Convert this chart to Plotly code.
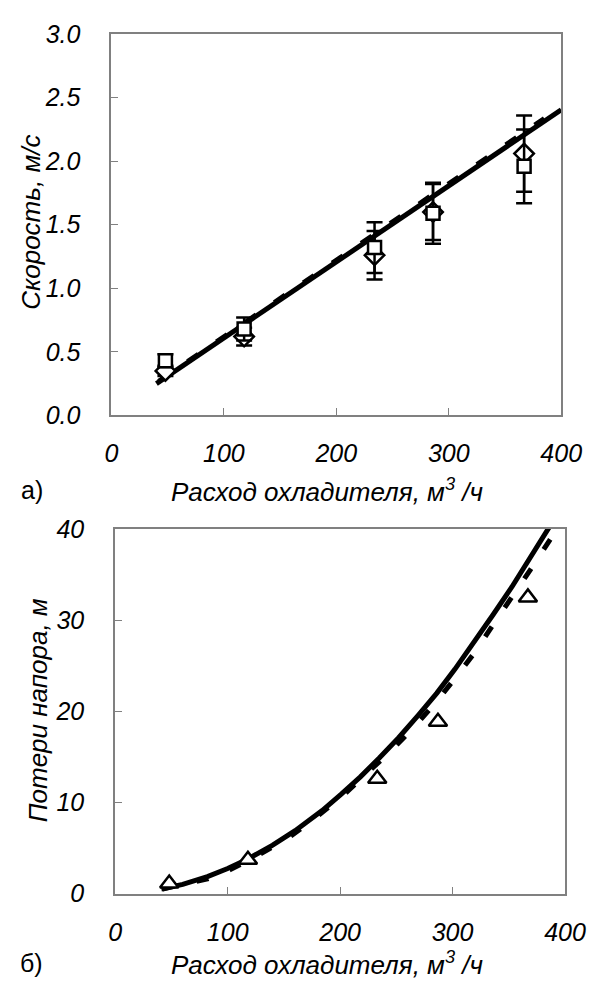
import plotly.graph_objects as go

# ---------------- data ----------------
# Panel a) velocity vs coolant flow
flow_exp = [48, 118, 234, 286, 367]
vel_square = [0.43, 0.68, 1.32, 1.59, 1.96]
vel_square_err = [0.05, 0.09, 0.20, 0.24, 0.29]
vel_diamond = [0.35, 0.62, 1.26, 1.60, 2.06]
vel_diamond_err = [0.04, 0.07, 0.19, 0.22, 0.30]

vel_solid_x = [40, 400]
vel_solid_y = [0.25, 2.405]
vel_dash_x = [42, 385]
vel_dash_y = [0.268, 2.335]

# Panel б) head loss vs coolant flow
loss_exp_x = [48, 118, 233, 287, 367]
loss_exp_y = [1.1, 3.7, 12.6, 18.85, 32.5]

loss_solid_x = [41, 60, 82, 100, 118, 140, 160, 184, 201, 218, 235, 252, 269, 286,
                302, 319, 336, 353, 370, 385, 392]
loss_solid_y = [0.5, 1.0, 1.85, 2.75, 3.8, 5.3, 6.9, 9.1, 10.9, 12.8, 14.9, 17.1, 19.5,
                22.0, 24.6, 27.5, 30.6, 33.7, 37.0, 40.0, 41.4]
loss_dash_x = [42, 82, 102, 130, 155, 178, 202, 225, 246, 266, 286, 302, 320, 336,
               353, 369, 386, 390]
loss_dash_y = [0.5, 1.6, 2.6, 4.4, 6.2, 8.3, 10.7, 13.3, 15.75, 18.3, 21.1, 23.6,
               26.5, 29.5, 32.5, 35.5, 38.7, 39.5]

x_ticks = [0, 100, 200, 300, 400]
vel_ticks = [0.0, 0.5, 1.0, 1.5, 2.0, 2.5, 3.0]
loss_ticks = [0, 10, 20, 30, 40]

# ---------------- figure ----------------
W, H = 607, 994
FONT = "Liberation Sans, Arial, sans-serif"
BLACK = "#000000"
GREY = "#808080"

fig = go.Figure()

# panel a lines
fig.add_trace(go.Scatter(x=vel_solid_x, y=vel_solid_y, mode="lines",
                         line=dict(color=BLACK, width=5), xaxis="x", yaxis="y",
                         showlegend=False))
fig.add_trace(go.Scatter(x=vel_dash_x, y=vel_dash_y, mode="lines",
                         line=dict(color=BLACK, width=5, dash="13px,22px"),
                         xaxis="x", yaxis="y", showlegend=False))
# panel a markers with error bars
fig.add_trace(go.Scatter(x=flow_exp, y=vel_diamond, mode="markers",
                         marker=dict(symbol="diamond", size=15, color="white",
                                     line=dict(color=BLACK, width=2.5)),
                         error_y=dict(type="data", array=vel_diamond_err, visible=True,
                                      color=BLACK, thickness=2.5, width=8),
                         xaxis="x", yaxis="y", showlegend=False))
fig.add_trace(go.Scatter(x=flow_exp, y=vel_square, mode="markers",
                         marker=dict(symbol="square", size=13, color="white",
                                     line=dict(color=BLACK, width=2.5)),
                         error_y=dict(type="data", array=vel_square_err, visible=True,
                                      color=BLACK, thickness=2.5, width=8),
                         xaxis="x", yaxis="y", showlegend=False))

# panel b lines
fig.add_trace(go.Scatter(x=loss_solid_x, y=loss_solid_y, mode="lines",
                         line=dict(color=BLACK, width=5),
                         xaxis="x2", yaxis="y2", showlegend=False))
fig.add_trace(go.Scatter(x=loss_dash_x, y=loss_dash_y, mode="lines",
                         line=dict(color=BLACK, width=5, dash="12px,23px"),
                         xaxis="x2", yaxis="y2", showlegend=False))
fig.add_trace(go.Scatter(x=loss_exp_x, y=loss_exp_y, mode="markers",
                         marker=dict(symbol="triangle-up", size=16, color="white",
                                     line=dict(color=BLACK, width=2.5)),
                         xaxis="x2", yaxis="y2", showlegend=False))

tickfont = dict(family=FONT, size=25, color=BLACK, style="italic")
common_axis = dict(showline=True, mirror=True, linecolor=GREY, linewidth=2,
                   showgrid=False, zeroline=False, ticks="inside", ticklen=7,
                   tickwidth=1, tickcolor=GREY, tickfont=tickfont)

# pixel geometry -> paper fractions
def xdom(a, b):
    return [a / W, b / W]

def ydom(top, bottom):
    return [1 - bottom / H, 1 - top / H]

fig.update_layout(
    width=W, height=H,
    margin=dict(l=0, r=0, t=0, b=0),
    paper_bgcolor="white", plot_bgcolor="white",
    xaxis=dict(domain=xdom(109.5, 581), range=[0, 400], tickvals=x_ticks,
               anchor="y", ticklabelstandoff=15, **common_axis),
    yaxis=dict(domain=ydom(20.7, 413), range=[0, 3], tickvals=vel_ticks,
               tickformat=".1f", anchor="x", ticklabelstandoff=24, **common_axis),
    xaxis2=dict(domain=xdom(113.5, 585), range=[0, 400], tickvals=x_ticks,
                anchor="y2", ticklabelstandoff=15, **common_axis),
    yaxis2=dict(domain=ydom(530, 905), range=[0, 40], tickvals=loss_ticks,
                anchor="x2", ticklabelstandoff=24, **common_axis),
)

title_font = dict(family=FONT, size=26, color=BLACK, style="italic")
plain_font = dict(family=FONT, size=25, color=BLACK)

def ann(text, xpx, ypx, font, angle=0):
    fig.add_annotation(text=text, x=xpx / W, y=1 - ypx / H, xref="paper", yref="paper",
                       xanchor="center", yanchor="middle", showarrow=False,
                       font=font, textangle=angle)

ann("Расход охладителя, м<sup>3</sup> /ч", 335, 490, title_font)
ann("Расход охладителя, м<sup>3</sup> /ч", 335, 977, title_font)
ann("Скорость, м/с", 25, 214, title_font, -90)
ann("Потери напора, м", 32, 717, title_font, -90)
ann("а)", 26, 490, plain_font)
ann("б)", 26, 977, plain_font)

fig.write_html("out.html")
